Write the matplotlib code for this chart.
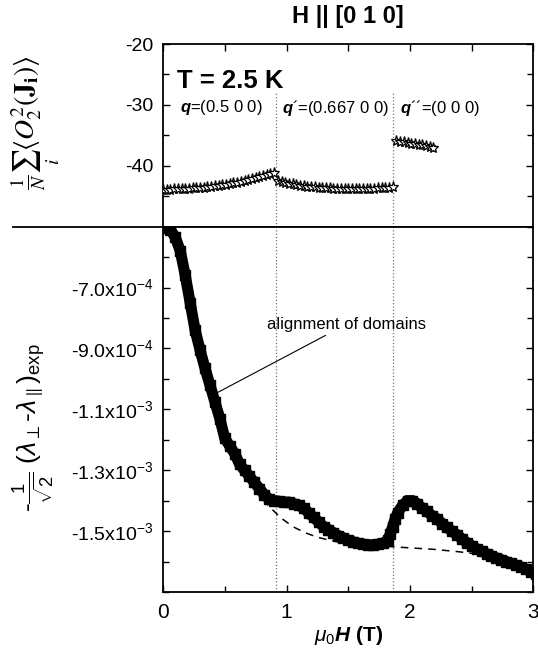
import matplotlib
matplotlib.use("Agg")
import matplotlib.pyplot as plt
from matplotlib.ticker import FixedLocator, FixedFormatter, MultipleLocator

plt.rcParams["font.family"] = ["Liberation Sans", "DejaVu Sans"]
plt.rcParams["mathtext.fontset"] = "custom"
plt.rcParams["mathtext.rm"] = "Liberation Sans"
plt.rcParams["mathtext.it"] = "Liberation Sans:italic"
plt.rcParams["mathtext.bf"] = "Liberation Sans:bold"
plt.rcParams["mathtext.bfit"] = "Liberation Sans:bold:italic"

# ---- top panel: calculated quadrupole expectation value, three phases ----
h_q1 = [0.00, 0.03, 0.06, 0.09, 0.12, 0.15, 0.18, 0.21, 0.24, 0.27, 0.30,
        0.33, 0.36, 0.39, 0.42, 0.45, 0.48, 0.51, 0.54, 0.57, 0.60, 0.63,
        0.66, 0.69, 0.72, 0.75, 0.78, 0.81, 0.84, 0.87, 0.90]
o22_q1 = [-43.95, -43.93, -43.90, -43.88, -43.85, -43.82, -43.78, -43.74,
          -43.70, -43.66, -43.62, -43.56, -43.50, -43.43, -43.35, -43.27,
          -43.18, -43.08, -42.98, -42.88, -42.76, -42.64, -42.50, -42.36,
          -42.20, -42.03, -41.86, -41.68, -41.50, -41.30, -41.10]

h_q2 = [0.93, 0.96, 0.99, 1.02, 1.05, 1.08, 1.11, 1.14, 1.17, 1.20, 1.23,
        1.26, 1.29, 1.32, 1.35, 1.38, 1.41, 1.44, 1.47, 1.50, 1.53, 1.56,
        1.59, 1.62, 1.65, 1.68, 1.71, 1.74, 1.77, 1.80, 1.83, 1.86]
o22_q2 = [-42.55, -42.70, -42.83, -42.95, -43.06, -43.16, -43.25, -43.33,
          -43.40, -43.47, -43.53, -43.58, -43.63, -43.67, -43.71, -43.74,
          -43.77, -43.79, -43.81, -43.82, -43.83, -43.83, -43.83, -43.82,
          -43.80, -43.78, -43.75, -43.72, -43.68, -43.63, -43.57, -43.45]

h_q3 = [1.89, 1.92, 1.95, 1.98, 2.01, 2.04, 2.07, 2.10, 2.13, 2.16, 2.19]
o22_q3 = [-35.95, -36.05, -36.15, -36.25, -36.35, -36.45, -36.55, -36.65,
          -36.75, -36.88, -37.00]

# ---- bottom panel: measured magnetostriction (units of 1e-4) ----
h_exp = [0.02, 0.06, 0.10, 0.14, 0.18, 0.22, 0.26, 0.30, 0.34, 0.38, 0.42,
         0.46, 0.50, 0.54, 0.58, 0.62, 0.66, 0.70, 0.74, 0.78, 0.82, 0.86,
         0.90, 0.94, 0.98, 1.02, 1.06, 1.10, 1.14, 1.18, 1.22, 1.26, 1.30,
         1.34, 1.38, 1.42, 1.46, 1.50, 1.54, 1.58, 1.62, 1.66, 1.70, 1.74,
         1.78, 1.82, 1.84, 1.86, 1.88, 1.90, 1.94, 1.98, 2.02, 2.06, 2.10,
         2.14, 2.18, 2.22, 2.26, 2.30, 2.34, 2.38, 2.42, 2.46, 2.50, 2.54,
         2.58, 2.62, 2.66, 2.70, 2.74, 2.78, 2.82, 2.86, 2.90, 2.94, 2.98,
         3.02]
lam_exp = [-5.05, -5.10, -5.35, -5.80, -6.60, -7.50, -8.40, -9.05, -9.65,
           -10.20, -10.75, -11.30, -11.95, -12.20, -12.45, -12.80, -13.00,
           -13.20, -13.40, -13.60, -13.80, -13.95, -14.00, -14.02, -14.05,
           -14.05, -14.10, -14.15, -14.25, -14.40, -14.55, -14.70, -14.85,
           -14.95, -15.05, -15.15, -15.22, -15.30, -15.35, -15.40, -15.43,
           -15.45, -15.45, -15.43, -15.40, -15.30, -15.10, -14.85, -14.60,
           -14.40, -14.15, -14.00, -14.00, -14.10, -14.25, -14.35, -14.50,
           -14.60, -14.75, -14.88, -15.00, -15.12, -15.25, -15.38, -15.48,
           -15.58, -15.66, -15.74, -15.81, -15.88, -15.94, -16.00, -16.06,
           -16.12, -16.18, -16.25, -16.33, -16.40]

# background (single-domain) estimate
h_bg = [0.55, 0.65, 0.75, 0.85, 0.95, 1.05, 1.15, 1.25, 1.35, 1.45, 1.60,
        1.80, 2.00, 2.20, 2.40, 2.60]
lam_bg = [-12.50, -13.10, -13.65, -14.15, -14.55, -14.85, -15.05, -15.20,
          -15.30, -15.38, -15.44, -15.50, -15.55, -15.60, -15.68, -15.78]

# phase boundaries (T)
h_transitions = [0.917, 1.865]

# tick labels
top_yticks = [-20, -30, -40]
top_yticklabels = ["-20", "-30", "-40"]
bot_yticks = [-7e-4, -9e-4, -1.1e-3, -1.3e-3, -1.5e-3]
bot_yticklabels = ["-7.0x10$^{-4}$", "-9.0x10$^{-4}$", "-1.1x10$^{-3}$",
                   "-1.3x10$^{-3}$", "-1.5x10$^{-3}$"]
xticks = [0, 1, 2, 3]

fig = plt.figure(figsize=(5.38, 6.70), dpi=100)
ax_t = fig.add_axes([0.3030, 0.6616, 0.6886, 0.2727])
ax_b = fig.add_axes([0.3030, 0.1164, 0.6886, 0.5452])

spine_lw = 1.3
for ax in (ax_t, ax_b):
    for s in ax.spines.values():
        s.set_linewidth(spine_lw)
    ax.set_xlim(0, 3)
    ax.tick_params(which="both", direction="in", width=1.0, labelsize=14,
                   pad=7)
    ax.tick_params(which="major", length=5)
    ax.tick_params(which="minor", length=4)

# top panel
ax_t.set_ylim(-50, -20)
for hx, yy in ((h_q1, o22_q1), (h_q2, o22_q2), (h_q3, o22_q3)):
    ax_t.plot(hx, yy, color="black", lw=1.4, marker="*", markersize=8,
              markerfacecolor="white", markeredgecolor="black",
              markeredgewidth=0.9, zorder=3)
for hv in h_transitions:
    ax_t.plot([hv, hv], [-50, -28], color="0.45", lw=0.9, ls=":", zorder=1)

ax_t.yaxis.set_major_locator(FixedLocator(top_yticks))
ax_t.yaxis.set_major_formatter(FixedFormatter(top_yticklabels))
ax_t.yaxis.set_minor_locator(MultipleLocator(5))
ax_t.xaxis.set_major_locator(MultipleLocator(0.5))
ax_t.tick_params(axis="x", which="both", bottom=False, top=True,
                 labelbottom=False)
ax_t.tick_params(axis="y", which="both", left=True, right=True)
ax_t.spines["bottom"].set_visible(False)
# panel separator running out into the label column
ax_t.plot([-0.405, 1.0], [0, 0], transform=ax_t.transAxes, color="black",
          lw=spine_lw, clip_on=False, zorder=5)

ax_t.text(0.11, -26.1, "T = 2.5 K", fontsize=18.5, fontweight="bold",
          va="center", ha="left")
ax_t.text(0.14, -30.5, r"$\mathbfit{q}$=(0.5 0 0)", fontsize=12,
          va="center", ha="left")
ax_t.text(0.96, -30.5, r"$\mathbfit{q}$´=(0.667 0 0)",
          fontsize=12, va="center", ha="left")
ax_t.text(1.92, -30.5, r"$\mathbfit{q}$´´=(0 0 0)",
          fontsize=12, va="center", ha="left")

# bottom panel
ax_b.set_ylim(-1.7e-3, -5e-4)
lam_exp_abs = [v * 1e-4 for v in lam_exp]
ax_b.plot(h_bg, [v * 1e-4 for v in lam_bg], color="black", lw=1.1,
          ls=(0, (5, 4)), zorder=2)
ax_b.plot(h_exp, lam_exp_abs, color="black", lw=8.0,
          solid_joinstyle="miter", solid_capstyle="butt", zorder=3)
ax_b.plot(h_exp, lam_exp_abs, ls="none", marker="s", markersize=7.5,
          color="black", zorder=3)
for hv in h_transitions:
    ax_b.axvline(hv, color="0.45", lw=0.9, ls=":", zorder=1)

ax_b.yaxis.set_major_locator(FixedLocator(bot_yticks))
ax_b.yaxis.set_major_formatter(FixedFormatter(bot_yticklabels))
ax_b.yaxis.set_minor_locator(MultipleLocator(1e-4))
ax_b.xaxis.set_major_locator(FixedLocator(xticks))
ax_b.xaxis.set_minor_locator(MultipleLocator(0.5))
ax_b.tick_params(axis="y", which="both", left=True, right=True)
ax_b.tick_params(axis="x", which="both", top=False, labelsize=15, pad=8)

ax_b.annotate("alignment of domains", xy=(0.44, -1.045e-3),
              xytext=(0.84, -8.21e-4), fontsize=12, va="center", ha="left",
              arrowprops=dict(arrowstyle="-", color="black", lw=0.8,
                              shrinkA=1, shrinkB=0))

ax_b.set_xlabel(r"$\mathit{\mu_0}\mathbfit{H}$ (T)", fontsize=15,
                fontweight="bold", labelpad=1)

fig.text(0.5 * (0.3030 + 0.9916), 0.975, "H || [0 1 0]", fontsize=17,
         fontweight="bold", ha="center", va="center")

fig.text(0.066, 1 - 123 / 670,
         r"$\frac{1}{N}\sum_i\langle O_2^2(\mathbf{J_i})\rangle$",
         rotation=90, ha="center", va="center", fontsize=20,
         math_fontfamily="stix")
fig.text(0.062, 1 - 428 / 670,
         r"-$\frac{1}{\sqrt{2}}$ ($\lambda_{\perp}$-$\lambda_{\parallel}$)$_{\mathrm{exp}}$",
         rotation=90, ha="center", va="center", fontsize=19)

fig.savefig("out.png", dpi=100)
